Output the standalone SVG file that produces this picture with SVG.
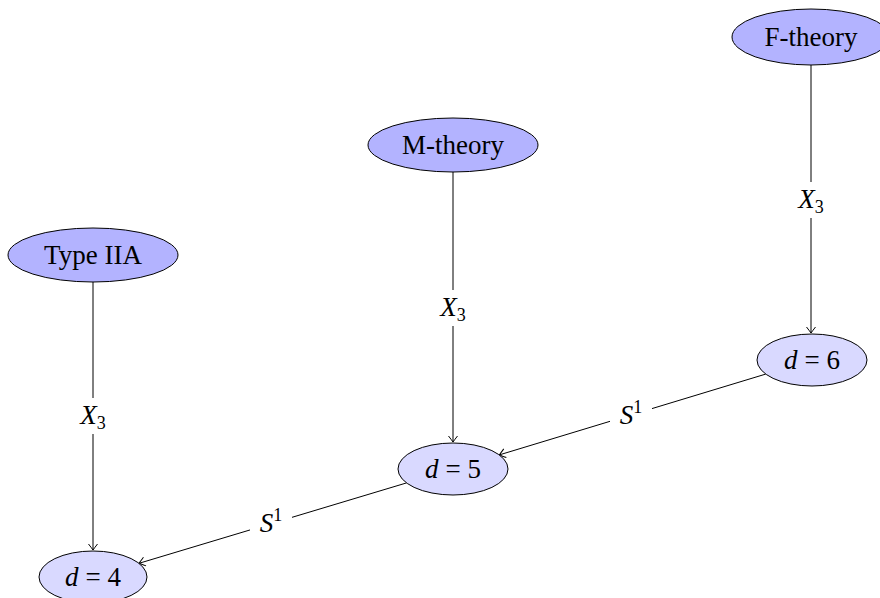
<svg xmlns="http://www.w3.org/2000/svg" width="880" height="598" viewBox="0 0 880 598">
<style>
.top{fill:#b3b3ff;stroke:#000;stroke-width:1}
.low{fill:#d9d9ff;stroke:#000;stroke-width:1}
.t{font-family:"Liberation Serif","DejaVu Serif",serif;font-size:27px;fill:#000;text-anchor:middle}
.e{stroke:#000;stroke-width:1;fill:none}
.bg{fill:#fff}
.sub{font-size:18px}
</style>
<defs>
<marker id="arr" markerWidth="12" markerHeight="12" refX="0" refY="0" viewBox="-8 -6 10 12" orient="auto" markerUnits="userSpaceOnUse">
<path d="M-6,-4.5 Q-1.5,-1 0,0 Q-1.5,1 -6,4.5" fill="none" stroke="#000" stroke-width="1"/>
</marker>
</defs>
<g id="connectors">
<line class="e" x1="93" y1="282" x2="93" y2="550" marker-end="url(#arr)"/>
<line class="e" x1="453" y1="172" x2="453" y2="442" marker-end="url(#arr)"/>
<line class="e" x1="811" y1="65" x2="811" y2="333" marker-end="url(#arr)"/>
<line class="e" x1="765.7" y1="374.1" x2="499.3" y2="454.9" marker-end="url(#arr)"/>
<line class="e" x1="406.6" y1="482.9" x2="139" y2="563.3" marker-end="url(#arr)"/>
<rect class="bg" x="74" y="398" width="38" height="36"/>
<text class="t" x="93" y="424"><tspan font-style="italic">X</tspan><tspan class="sub" dy="5">3</tspan></text>
<rect class="bg" x="434" y="290" width="38" height="36"/>
<text class="t" x="453" y="316"><tspan font-style="italic">X</tspan><tspan class="sub" dy="5">3</tspan></text>
<rect class="bg" x="792" y="182" width="38" height="36"/>
<text class="t" x="811" y="208"><tspan font-style="italic">X</tspan><tspan class="sub" dy="5">3</tspan></text>
<rect class="bg" x="610" y="396" width="42" height="36"/>
<text class="t" x="631" y="424"><tspan font-style="italic">S</tspan><tspan class="sub" dy="-11">1</tspan></text>
<rect class="bg" x="250" y="504" width="42" height="36"/>
<text class="t" x="271" y="532"><tspan font-style="italic">S</tspan><tspan class="sub" dy="-11">1</tspan></text>
</g>
<g id="typeIIA">
<ellipse class="top" cx="93" cy="255" rx="85" ry="27"/>
<text class="t" x="93" y="264">Type IIA</text>
</g>
<g id="mtheory">
<ellipse class="top" cx="453" cy="145" rx="85" ry="27"/>
<text class="t" x="453" y="154">M-theory</text>
</g>
<g id="ftheory">
<ellipse class="top" cx="811" cy="37" rx="79" ry="28"/>
<text class="t" x="811" y="46">F-theory</text>
</g>
<g id="d4">
<ellipse class="low" cx="93" cy="577" rx="54" ry="26"/>
<text class="t" x="93" y="586"><tspan font-style="italic">d</tspan><tspan dx="7">=</tspan><tspan dx="7">4</tspan></text>
</g>
<g id="d5">
<ellipse class="low" cx="453" cy="469" rx="55" ry="26"/>
<text class="t" x="453" y="478"><tspan font-style="italic">d</tspan><tspan dx="7">=</tspan><tspan dx="7">5</tspan></text>
</g>
<g id="d6">
<ellipse class="low" cx="812" cy="360" rx="55" ry="26"/>
<text class="t" x="812" y="369"><tspan font-style="italic">d</tspan><tspan dx="7">=</tspan><tspan dx="7">6</tspan></text>
</g>
</svg>
